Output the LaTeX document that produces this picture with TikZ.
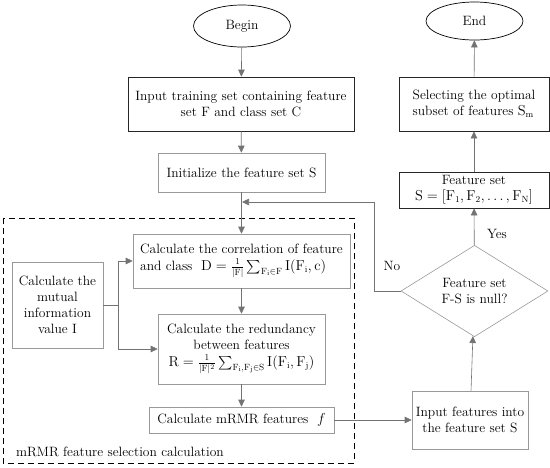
\documentclass[tikz,border=0pt]{standalone}
\usepackage{amsmath}
\usepackage{amssymb}
\usepackage{xcolor}
\usepackage{tikz}
\usetikzlibrary{positioning}
\usetikzlibrary{arrows.meta}
\usetikzlibrary{shapes.geometric}

\begin{document}
\begin{tikzpicture}[x=1pt, y=-1pt,
				font=\fontsize{13.5}{16}\selectfont,
				proc/.style={rectangle, draw=gray!80, line width=0.6pt, align=center, inner sep=2pt},
				mainbox/.style={rectangle, draw=black!85, line width=0.7pt, align=center, inner sep=2pt},
				term/.style={ellipse, draw=black, line width=0.7pt, inner sep=0pt},
				decision/.style={diamond, draw=gray!80, line width=0.6pt, align=center, inner sep=0pt},
				arr/.style={-{Triangle[length=7pt, width=6.5pt]}, draw=gray!90!black, line width=0.6pt},
				conn/.style={draw=gray!90!black, line width=0.6pt}
			]
			\useasboundingbox (0,0) rectangle (550,467);

			% left column
			\node[term, minimum width=97pt, minimum height=42pt] (begin) at (242,26) {Begin};
			\node[mainbox, minimum width=226pt, minimum height=54pt] (input) at (241,104)
				{Input training set containing feature\\ set F and class set C};
			\node[proc, minimum width=167pt, minimum height=39pt] (init) at (241.5,172.5) {Initialize the feature set S};

			% mRMR block
			\draw[dashed, line width=0.9pt, dash pattern=on 6pt off 4pt] (3,218) rectangle (354,463);
			\node[anchor=west, inner sep=0pt] (mrmrlabel) at (16,452) {mRMR feature selection calculation};

			\node[proc, align=left, minimum width=217pt, minimum height=54pt] (corr) at (241.5,261)
				{Calculate the correlation of feature\\[1pt] and class \ $\mathrm{D}=\frac{1}{|\mathrm{F}|}\sum_{\mathrm{F_i}\in \mathrm{F}}\mathrm{I}(\mathrm{F_i},\mathrm{c})$};
			\node[proc, minimum width=167pt, minimum height=70pt] (red) at (241.5,349)
				{Calculate the redundancy\\ between features\\[1pt] $\mathrm{R}=\frac{1}{|\mathrm{F}|^2}\sum_{\mathrm{F_i},\mathrm{F_j}\in \mathrm{S}}\mathrm{I}(\mathrm{F_i},\mathrm{F_j})$};
			\node[proc, minimum width=185pt, minimum height=26pt] (mrmr) at (241.5,420) {Calculate mRMR features \ $f$};
			\node[proc, minimum width=91pt, minimum height=86pt] (mutual) at (57.5,305)
				{Calculate the\\ mutual\\ information\\ value I};

			% right column
			\node[term, minimum width=97pt, minimum height=38pt] (end) at (474.5,21) {End};
			\node[mainbox, align=left, minimum width=150pt, minimum height=54pt] (select) at (474,104)
				{Selecting the optimal\\ subset of features $\mathrm{S_m}$};
			\node[mainbox, minimum width=150pt, minimum height=36pt] (fset) at (474,190)
				{Feature set\\ $\mathrm{S}=[\mathrm{F_1},\mathrm{F_2},\dots,\mathrm{F_N}]$};
			\node[decision, minimum width=147pt, minimum height=78pt] (dec) at (474.5,291)
				{Feature set\\ F-S is null?};
			\node[proc, minimum width=116pt, minimum height=58pt] (inpf) at (470,420)
				{Input features into\\ the feature set S};

			\coordinate (join) at (242,202);
			\coordinate (split) at (118,305);

			% arrows
			\draw[arr] (begin) -- (input);
			\draw[arr] (input) -- (init);
			\draw[arr] (init) -- (corr);
			\draw[arr] (corr) -- (red);
			\draw[arr] (red) -- (mrmr);
			\draw[arr] (mrmr) -- (inpf);
			\draw[arr] (inpf) -- (dec);
			\draw[arr] (dec) -- (fset);
			\node (yes) at (497,234) {Yes};
			\draw[arr] (fset) -- (select);
			\draw[arr] (select) -- (end);
			\draw[arr] (dec.west) -- ++(-26,0) |- (join);
			\node (no) at (392,266) {No};
			\draw[conn] (mutual.east) -- (split);
			\draw[arr] (split) |- (corr.west);
			\draw[arr] (split) |- (red.west);

		\end{tikzpicture}
\end{document}
